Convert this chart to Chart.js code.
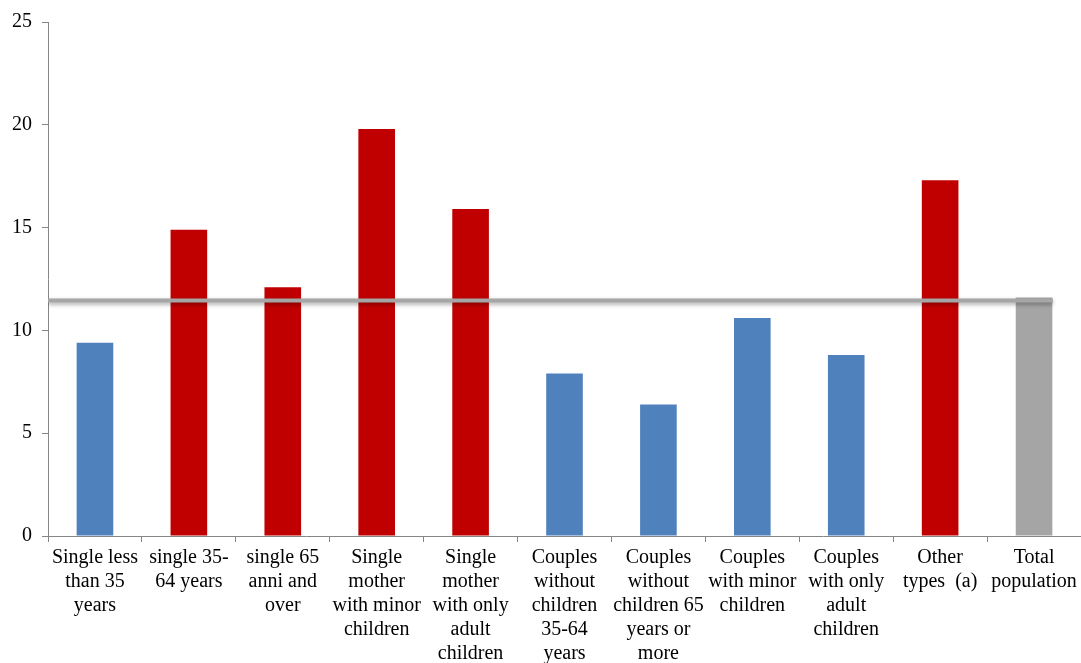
<!DOCTYPE html>
<html>
<head>
<meta charset="utf-8">
<script src="https://cdn.jsdelivr.net/npm/chart.js@4"></script>
<style>
  html, body { margin: 0; padding: 0; background: #fff; overflow: hidden; }
  #wrap { width: 1081px; height: 663px; position: relative; }
</style>
</head>
<body>
<div id="wrap"><canvas id="povertyChart" width="1081" height="663"></canvas></div>
<script>
// household types and their values
const categories = [
  ['Single less', 'than 35', 'years'],
  ['single 35-', '64 years'],
  ['single 65', 'anni and', 'over'],
  ['Single', 'mother', 'with minor', 'children'],
  ['Single', 'mother', 'with only', 'adult', 'children'],
  ['Couples', 'without', 'children', '35-64', 'years'],
  ['Couples', 'without', 'children 65', 'years or', 'more'],
  ['Couples', 'with minor', 'children'],
  ['Couples', 'with only', 'adult', 'children'],
  ['Other', 'types  (a)'],
  ['Total', 'population']
];
const values = [9.4, 14.9, 12.1, 19.8, 15.9, 7.9, 6.4, 10.6, 8.8, 17.3, 11.6];
// above / below the total: 'high', 'low', 'total'
const groups = ['low', 'high', 'high', 'high', 'high', 'low', 'low', 'low', 'low', 'high', 'total'];
const averageLine = [{ x: 0, y: 11.45 }, { x: 10.7, y: 11.45 }];
const yTicks = [0, 5, 10, 15, 20, 25];

const groupColor = { low: '#4F81BD', high: '#C00000', total: '#A5A5A5' };

// soft shadow under the average line
const lineShadow = {
  id: 'lineShadow',
  beforeDatasetDraw(chart, args) {
    if (args.meta.type !== 'line') return;
    const ctx = chart.ctx;
    ctx.save();
    ctx.shadowColor = 'rgba(0,0,0,0.35)';
    ctx.shadowBlur = 4;
    ctx.shadowOffsetY = 2;
  },
  afterDatasetDraw(chart, args) {
    if (args.meta.type !== 'line') return;
    chart.ctx.restore();
  }
};

const ctx = document.getElementById('povertyChart').getContext('2d');
new Chart(ctx, {
  type: 'bar',
  data: {
    labels: categories,
    datasets: [{
      type: 'line',
      data: averageLine,
      xAxisID: 'x2',
      borderColor: '#A6A6A6',
      borderWidth: 4,
      pointRadius: 0,
      order: 0
    }, {
      data: values,
      backgroundColor: groups.map(g => groupColor[g]),
      categoryPercentage: 1,
      barPercentage: 0.39,
      grouped: false,
      order: 1
    }]
  },
  options: {
    responsive: false,
    animation: false,
    devicePixelRatio: 1,
    layout: { padding: { top: 10, right: 0, left: 0, bottom: 0 } },
    plugins: { legend: { display: false }, tooltip: { enabled: false } },
    scales: {
      x: {
        grid: { drawOnChartArea: false, color: '#868686', tickLength: 6 },
        border: { color: '#868686' },
        ticks: {
          color: '#000',
          maxRotation: 0,
          autoSkip: false,
          padding: 4,
          font: { family: 'Liberation Serif', size: 20, lineHeight: 1.2 }
        },
        afterFit(scale) { scale.height = 127; }
      },
      x2: {
        type: 'linear',
        display: false,
        offset: false,
        min: 0,
        max: 11
      },
      y: {
        min: 0,
        max: 25,
        afterBuildTicks(scale) { scale.ticks = yTicks.map(v => ({ value: v })); },
        grid: { drawOnChartArea: false, color: '#868686', tickLength: 6 },
        border: { color: '#868686' },
        ticks: {
          color: '#000',
          padding: 10,
          font: { family: 'Liberation Serif', size: 20 }
        },
        afterFit(scale) { scale.width = 48; }
      }
    }
  },
  plugins: [lineShadow]
});
</script>
</body>
</html>
